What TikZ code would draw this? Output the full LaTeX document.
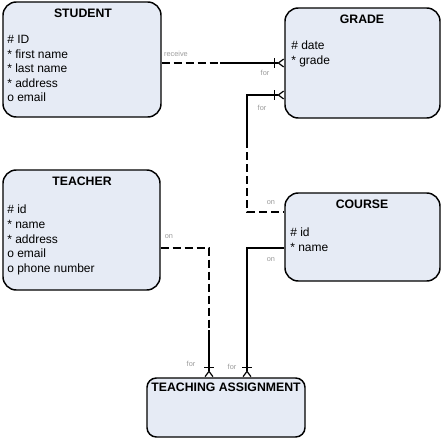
\documentclass[tikz,border=0pt]{standalone}
\usepackage{fontspec}
\setmainfont{Liberation Sans}
\usetikzlibrary{arrows.meta}
\definecolor{boxfill}{HTML}{E6EBF5}
\definecolor{lblgray}{HTML}{9A9A9A}

\begin{document}
\begin{tikzpicture}[x=0.75pt, y=-0.75pt,
  entity/.style={draw, line width=1.1pt, rectangle, fill=boxfill, rounded corners=10pt},
  etitle/.style={font=\fontsize{9.2}{10}\selectfont\bfseries, inner sep=0pt},
  attrs/.style={font=\fontsize{9}{10.9}\selectfont, align=left, anchor=north west, inner sep=0pt},
  rel/.style={font=\fontsize{5.5}{6}\selectfont, text=lblgray, inner sep=1pt},
  mand/.style={line width=0.9pt},
  opt/.style={line width=1.4pt, dash pattern=on 6pt off 3pt},
  many/.style={-{Bar[width=7pt,sep=1.5pt]Straight Barb[reversed,length=4pt,width=6pt]}}
]
\useasboundingbox (0,0) rectangle (444,439);

\node[entity, minimum width=118.5pt, minimum height=86.25pt] (student) at (82,59.5) {};
\node[entity, minimum width=116.25pt, minimum height=82.5pt] (grade) at (362.5,63) {};
\node[entity, minimum width=117.75pt, minimum height=90pt] (teacher) at (81.5,230) {};
\node[entity, minimum width=116.25pt, minimum height=66pt] (course) at (362.5,237) {};
\node[entity, minimum width=118.5pt, minimum height=44.25pt, rounded corners=7pt] (ta) at (226,407.5) {};

\node[etitle] (student-t) at (83,13) {STUDENT};
\node[etitle] (grade-t) at (362,19) {GRADE};
\node[etitle] (teacher-t) at (82,181) {TEACHER};
\node[etitle] (course-t) at (362,204) {COURSE};
\node[etitle] (ta-t) at (226,387) {TEACHING ASSIGNMENT};

\node[attrs] (student-a) at (7,35) {\# ID\\* first name\\* last name\\* address\\o email};
\node[attrs] (grade-a) at (291,41) {\# date\\* grade};
\node[attrs] (teacher-a) at (7,205) {\# id\\* name\\* address\\o email\\o phone number};
\node[attrs] (course-a) at (290,228) {\# id\\* name};

% student - grade
\coordinate (recv) at (220,63);
\draw[opt] (student.east |- recv) -- (recv);
\draw[mand, many] (recv) -- (grade.west |- recv);
\node[rel] (l-recv) at (176,54) {receive};
\node[rel] (l-for1) at (265,73) {for};

% grade - course
\coordinate (gc-top) at (247,95);
\coordinate (gc-mid) at (247,140);
\coordinate (gc-bot) at (247,212);
\draw[mand, many] (gc-mid) -- (gc-top) -- (grade.west |- gc-top);
\draw[opt] (gc-mid) -- (gc-bot) -- (course.west |- gc-bot);
\node[rel] (l-for2) at (262,108) {for};
\node[rel] (l-on1) at (271,203) {on};

% teacher - teaching assignment
\coordinate (ta-l) at (209,248);
\coordinate (ta-lm) at (209,330);
\draw[opt] (teacher.east |- ta-l) -- (ta-l) -- (ta-lm);
\draw[mand, many] (ta-lm) -- (ta.north -| ta-lm);
\node[rel] (l-on2) at (169,237) {on};
\node[rel] (l-for3) at (191,364) {for};

% course - teaching assignment
\coordinate (ta-r) at (247,248);
\draw[mand, many] (course.west |- ta-r) -- (ta-r) -- (ta.north -| ta-r);
\node[rel] (l-on3) at (271,260) {on};
\node[rel] (l-for4) at (232,367) {for};
\end{tikzpicture}
\end{document}
